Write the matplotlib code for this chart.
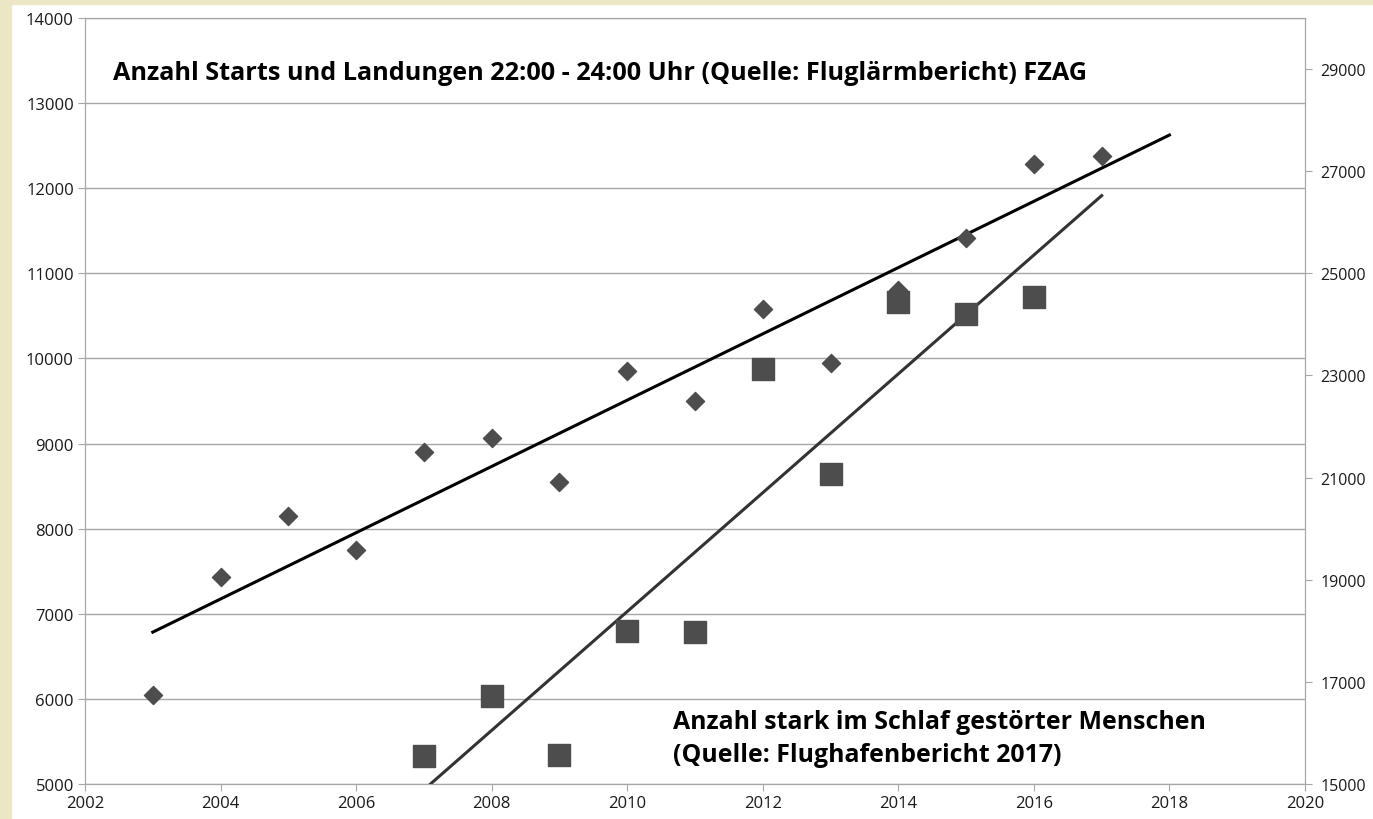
import numpy as np
import matplotlib
matplotlib.use("Agg")
import matplotlib.pyplot as plt
from matplotlib.patches import Rectangle

# night flights 22:00-24:00 (left axis)
years_flights = [2003, 2004, 2005, 2006, 2007, 2008, 2009, 2010, 2011, 2012, 2013, 2014, 2015, 2016, 2017]
flights = [6050, 7430, 8150, 7750, 8900, 9070, 8550, 9850, 9500, 10580, 9950, 10800, 11410, 12280, 12380]

# people strongly disturbed in sleep (right axis)
years_people = [2007, 2008, 2009, 2010, 2011, 2012, 2013, 2014, 2015, 2016]
people = [15550, 16730, 15570, 18000, 17985, 23130, 21070, 24440, 24210, 24540]

left_ticks = list(range(5000, 14001, 1000))
right_ticks = list(range(15000, 29001, 2000))
x_ticks = list(range(2002, 2021, 2))

plt.rcParams['font.family'] = ['Open Sans', 'DejaVu Sans']
grid_c = "#a6a6a6"
txt_c = "#1a1a1a"

fig = plt.figure(figsize=(13.73, 8.2), dpi=100, facecolor="white")
# beige strip on the left and top edges
fig.patches.append(Rectangle((0, 0), 11 / 1373, 1, transform=fig.transFigure, color="#ebe6c3", zorder=0))
fig.patches.append(Rectangle((0, 1 - 5 / 820), 1, 5 / 820, transform=fig.transFigure, color="#ebe6c3", zorder=0))

ax = fig.add_axes([85 / 1373, 1 - 785 / 820, (1305 - 85) / 1373, (785 - 19) / 820])
ax.set_xlim(2002, 2020)
ax.set_ylim(5000, 14000)
ax.set_xticks(x_ticks)
ax.set_yticks(left_ticks)
ax.grid(axis="y", color=grid_c, lw=1)
ax.set_axisbelow(True)
for s in ax.spines.values():
    s.set_color(grid_c)
ax.tick_params(colors=grid_c, labelcolor=txt_c, labelsize=12, length=5, pad=3)

ax2 = ax.twinx()
ax2.set_ylim(15000, 30000)
ax2.set_yticks(right_ticks)
ax2.tick_params(colors=grid_c, labelcolor=txt_c, labelsize=11.5, length=5, pad=6)
for s in ax2.spines.values():
    s.set_color(grid_c)

ax.scatter(years_flights, flights, marker="D", s=85, color="#4d4d4d", zorder=3)
ax2.scatter(years_people, people, marker="s", s=250, color="#4d4d4d", zorder=3)

# linear trends
k1, d1 = np.polyfit(years_flights, flights, 1)
xs1 = np.array([2003, 2018])
ax.plot(xs1, k1 * xs1 + d1, color="black", lw=2.2, zorder=2)

k2, d2 = np.polyfit(years_people, people, 1)
xs2 = np.array([2006, 2017])
ax2.plot(xs2, k2 * xs2 + d2, color="#333333", lw=2.2, zorder=2)

fig.text(113 / 1373, 1 - 73 / 820, "Anzahl Starts und Landungen 22:00 - 24:00 Uhr (Quelle: Fluglärmbericht) FZAG",
         fontsize=18.2, fontweight="bold", color="black", va="center")
fig.text(673 / 1373, 1 - 739 / 820, "Anzahl stark im Schlaf gestörter Menschen\n(Quelle: Flughafenbericht 2017)",
         fontsize=17.9, fontweight="bold", color="black", va="center", linespacing=1.4)

fig.savefig("out.png", dpi=100)
